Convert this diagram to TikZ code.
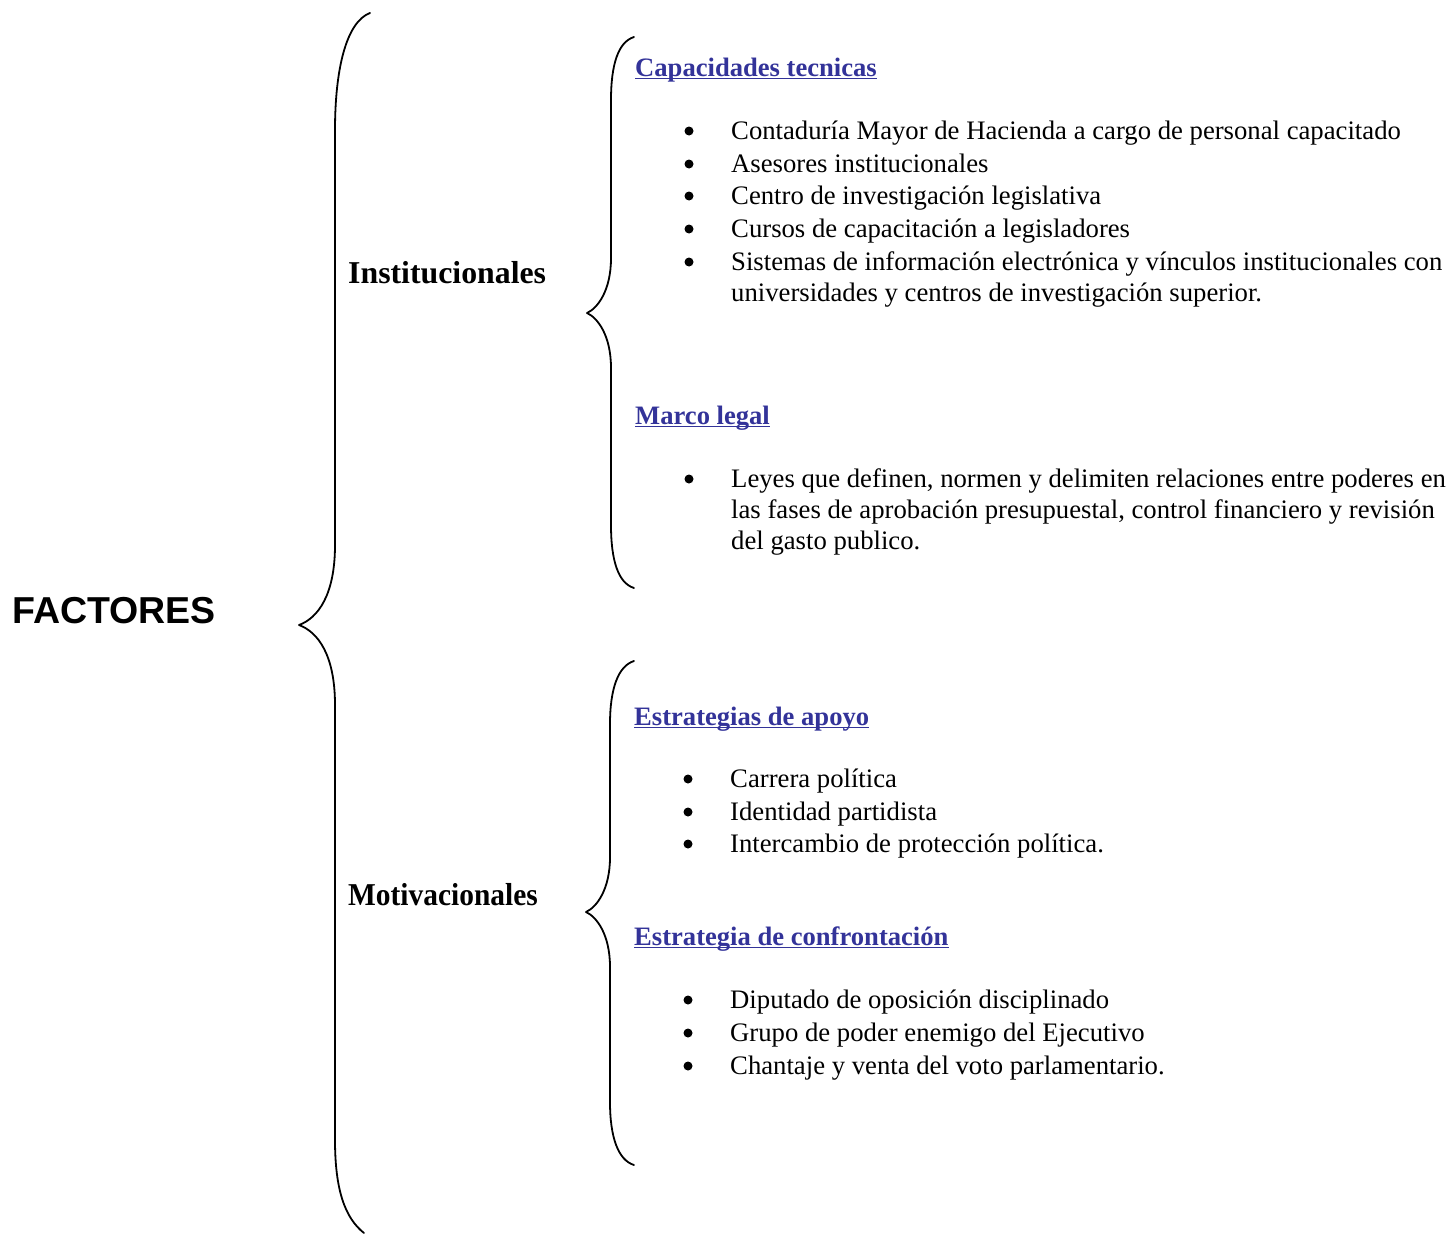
\documentclass[tikz,border=0pt]{standalone}
\usepackage{fontspec}
\setmainfont{Liberation Serif}
\newfontfamily\headsans{Liberation Sans}
\definecolor{linkblue}{RGB}{51,51,153}
\begin{document}
\begin{tikzpicture}[x=1pt,y=-1pt,
  brace/.style={line width=1.8pt,line cap=round,line join=round},
  rootlabel/.style={anchor=base west,inner sep=0pt,font=\headsans\bfseries\fontsize{37.5}{42}\selectfont},
  grouplabel/.style={anchor=base west,inner sep=0pt,font=\bfseries\fontsize{31.8}{36}\selectfont},
  topic/.style={anchor=base west,inner sep=0pt,text=linkblue,font=\bfseries\fontsize{26.6}{31}\selectfont},
  topicline/.style={linkblue,line width=1.6pt},
  item/.style={anchor=base west,inner sep=0pt,align=left,font=\fontsize{26.7}{31}\selectfont},
  dot/.style={circle,fill=black,inner sep=0pt,minimum size=9pt}
]
\useasboundingbox (0,0) rectangle (1450,1234);

% root and group labels
\node[rootlabel] (factores) at (12,623) {FACTORES};
\node[grouplabel] (inst) at (348,283) {Institucionales};
\node[grouplabel] (motiv) at (348,905) {\scalebox{0.925}[1]{Motivacionales}};

% main brace
\draw[brace] (370,13) .. controls (346,22) and (335,70) .. (335,130)
  -- (335,545) .. controls (335,595) and (318,618) .. (299,625)
  .. controls (318,632) and (335,655) .. (335,705)
  -- (335,1140) .. controls (335,1190) and (345,1218) .. (364,1233);

% brace of the institutional factors
\draw[brace] (634,37) .. controls (618,42) and (611,65) .. (611,100)
  -- (611,258) .. controls (611,290) and (598,308) .. (587,313)
  .. controls (598,318) and (611,336) .. (611,368)
  -- (611,525) .. controls (611,560) and (618,583) .. (634,588);

% brace of the motivational factors
\draw[brace] (634,661) .. controls (618,666) and (610,689) .. (610,724)
  -- (610,857) .. controls (610,889) and (597,907) .. (586,912)
  .. controls (597,917) and (610,935) .. (610,967)
  -- (610,1102) .. controls (610,1137) and (618,1160) .. (634,1165);

% underlined topic headings
\foreach \n/\x/\y/\t in {
  cap/635/76/{Capacidades tecnicas},
  marco/635/424/{Marco legal},
  apoyo/634/725/{Estrategias de apoyo},
  conf/634/945/{Estrategia de confrontación}}{
  \node[topic] (\n) at (\x,\y) {\t};
  \draw[topicline] ([yshift=-2.5pt]\n.base west) -- ([yshift=-2.5pt]\n.base east);
}

% items under Capacidades tecnicas (a multi-line node sits on its last baseline)
\foreach \n/\by/\y/\t in {
  c1/139/139/{Contaduría Mayor de Hacienda a cargo de personal capacitado},
  c2/172/172/{Asesores institucionales},
  c3/204/204/{Centro de investigación legislativa},
  c4/237/237/{Cursos de capacitación a legisladores},
  c5/270/301/{Sistemas de información electrónica y vínculos institucionales con\\universidades y centros de investigación superior.}}{
  \node[dot] (\n-b) at (689,\by-8) {};
  \node[item] (\n) at (731,\y) {\t};
}

% item under Marco legal
\node[dot] (m1-b) at (689,479) {};
\node[item] (m1) at (731,549) {Leyes que definen, normen y delimiten relaciones entre poderes en\\las fases de aprobación presupuestal, control financiero y revisión\\del gasto publico.};

% items under Estrategias de apoyo
\foreach \n/\y/\t in {
  a1/787/{Carrera política},
  a2/820/{Identidad partidista},
  a3/852/{Intercambio de protección política.}}{
  \node[dot] (\n-b) at (688,\y-8) {};
  \node[item] (\n) at (730,\y) {\t};
}

% items under Estrategia de confrontación
\foreach \n/\y/\t in {
  e1/1008/{Diputado de oposición disciplinado},
  e2/1041/{Grupo de poder enemigo del Ejecutivo},
  e3/1074/{Chantaje y venta del voto parlamentario.}}{
  \node[dot] (\n-b) at (688,\y-8) {};
  \node[item] (\n) at (730,\y) {\t};
}
\end{tikzpicture}
\end{document}
